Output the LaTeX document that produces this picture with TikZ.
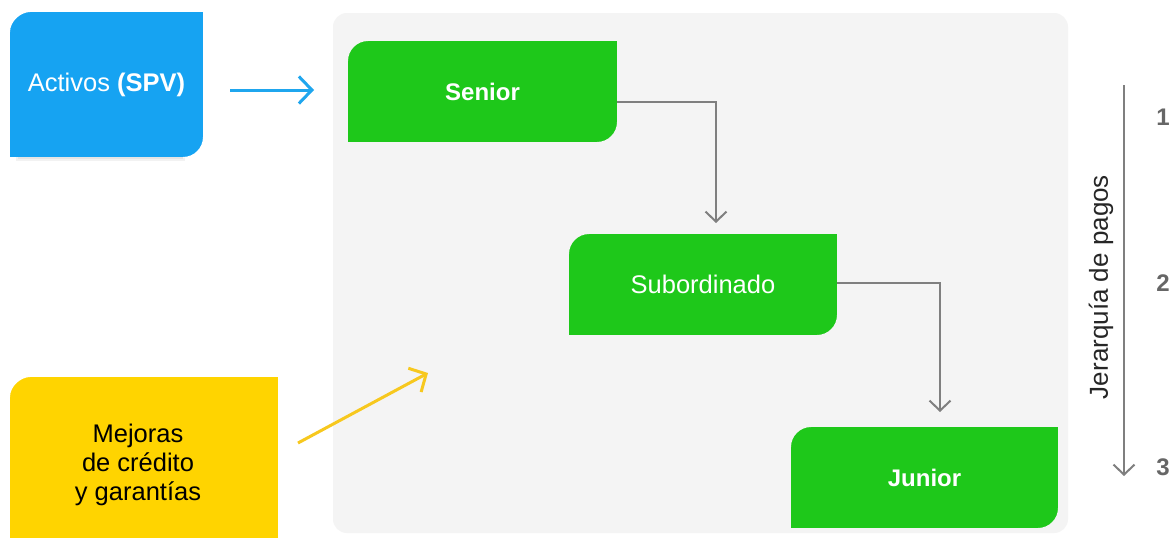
\documentclass[tikz,border=0pt]{standalone}
\usepackage{fontspec}
\setmainfont{Liberation Sans}
\usetikzlibrary{arrows.meta}
\definecolor{cblue}{HTML}{16A3F2}
\definecolor{cyellow}{HTML}{FFD400}
\definecolor{cgreen}{HTML}{1EC81A}
\definecolor{cpanel}{HTML}{F4F4F4}
\definecolor{cline}{HTML}{7F7F7F}
\definecolor{cnum}{HTML}{666666}
\definecolor{cbluearr}{HTML}{1FA6EE}
\definecolor{cyelarr}{HTML}{F7C81E}
\begin{document}
\begin{tikzpicture}[x=1pt,y=-1pt,
  tabbox/.style={rectangle, inner sep=0pt, align=center, font=\fontsize{25.5}{29}\selectfont},
  boldtext/.style={font=\fontsize{24}{29}\selectfont\bfseries},
  flowline/.style={draw=cline, line width=2pt, -{Straight Barb[length=10pt,width=21pt,line width=2pt]}},
  feedarrow/.style={line width=3pt, -{Straight Barb[length=13pt,width=27pt,line width=3pt]}},
  numlabel/.style={text=cnum, font=\fontsize{24}{28}\selectfont\bfseries}]
\useasboundingbox (0,0) rectangle (1176,538);
\fill[white] (0,0) rectangle (1176,538);
\fill[cpanel, rounded corners=14] (333,13) rectangle (1068,533);
% soft shadow under the blue box
\fill[black, opacity=0.05] (16,150) rectangle (185,161);
\fill[black, opacity=0.05] (18,152) rectangle (183,159);

% box bodies
\fill[cblue] (10,12) rectangle (203,157);
\fill[cyellow] (10,377) rectangle (278,538);
\fill[cgreen] (348,41) rectangle (617,142);
\fill[cgreen] (569,234) rectangle (837,335);
\fill[cgreen] (791,427) rectangle (1058,528);

% rounded cut-outs at top-left and bottom-right corners
\fill[white] (9.5,11.5) -- (30,11.5) -- (30,12) .. controls (21,12) and (10,21) .. (10,32) -- (9.5,32) -- cycle;
\fill[white] (203.5,157.5) -- (203.5,137) -- (203,137) .. controls (203,148) and (194,157) .. (183,157) -- (183,157.5) -- cycle;
\fill[white] (9.5,376.5) -- (30,376.5) -- (30,377) .. controls (21,377) and (10,386) .. (10,397) -- (9.5,397) -- cycle;
\fill[cpanel] (347.5,40.5) -- (368,40.5) -- (368,41) .. controls (357,41) and (348,50) .. (348,61) -- (347.5,61) -- cycle;
\fill[cpanel] (617.5,142.5) -- (617.5,122) -- (617,122) .. controls (617,133) and (608,142) .. (597,142) -- (597,142.5) -- cycle;
\fill[cpanel] (568.5,233.5) -- (589,233.5) -- (589,234) .. controls (578,234) and (569,243) .. (569,254) -- (568.5,254) -- cycle;
\fill[cpanel] (837.5,335.5) -- (837.5,315) -- (837,315) .. controls (837,326) and (828,335) .. (817,335) -- (817,335.5) -- cycle;
\fill[cpanel] (790.5,426.5) -- (811,426.5) -- (811,427) .. controls (800,427) and (791,436) .. (791,447) -- (790.5,447) -- cycle;
\fill[cpanel] (1058.5,528.5) -- (1058.5,508) -- (1058,508) .. controls (1058,519) and (1049,528) .. (1038,528) -- (1038,528.5) -- cycle;

\node[tabbox, minimum width=193pt, minimum height=145pt, text=white] (act) at (106.5,84.5) {Activos \textbf{(SPV)}};
\node[tabbox, minimum width=268pt, minimum height=161pt] (mej) at (144,457.5) {};
\node[tabbox, text=black] (mejt) at (138,464.5) {Mejoras\\de crédito\\y garantías};
\node[tabbox, boldtext, minimum width=269pt, minimum height=101pt, text=white] (sen) at (482.5,91.5) {Senior};
\node[tabbox, minimum width=268pt, minimum height=101pt, text=white] (sub) at (703,284.5) {Subordinado};
\node[tabbox, boldtext, minimum width=267pt, minimum height=101pt, text=white] (jun) at (924.5,477.5) {Junior};

% feed arrows
\coordinate (bA) at (230,90);
\coordinate (bB) at (314,90);
\draw[feedarrow, draw=cbluearr] (bA) -- (bB);
\coordinate (yA) at (298,443);
\coordinate (yB) at (428,373);
\draw[feedarrow, draw=cyelarr] (yA) -- (yB);

% flow connectors
\draw[flowline] (sen.east |- 0,102) -| (716,223);
\draw[flowline] (sub.east |- 0,283) -| (940,412);

% hierarchy axis
\coordinate (axT) at (1124,85);
\coordinate (axB) at (1124,476);
\draw[flowline] (axT) -- (axB);
\node[rotate=90, font=\fontsize{26}{30}\selectfont, text=black!85] (jer) at (1101,287) {Jerarquía de pagos};
\node[numlabel] (n1) at (1163,117) {1};
\node[numlabel] (n2) at (1163,283) {2};
\node[numlabel] (n3) at (1163,467) {3};
\end{tikzpicture}
\end{document}
